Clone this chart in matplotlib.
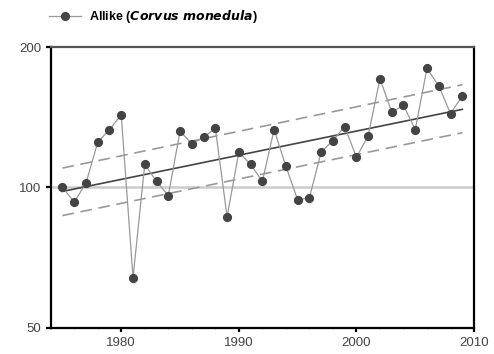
import matplotlib.pyplot as plt
from matplotlib.ticker import FixedLocator, NullFormatter

plt.rcParams.update({
    "font.family": ["Liberation Sans", "DejaVu Sans"],
    "font.size": 9,
})

# Jahresindex Allike (Corvus monedula), 1975 = 100
years = list(range(1975, 2010))
index = [100, 93, 102, 125, 133, 143, 64, 112, 103, 96,
         132, 124, 128, 134, 86.5, 119, 112, 103, 133, 111,
         94, 95, 119, 126, 135, 116, 129, 171, 145, 150,
         133, 180, 165, 144, 157]

# Trend mit Konfidenzband (Endpunkte)
trend_years = [1975, 2009]
trend = [98, 147]
upper = [110, 166]
lower = [87, 131]

fig = plt.figure(figsize=(4.94, 3.54), dpi=100)
ax = fig.add_axes([0.1026, 0.0743, 0.857, 0.7929])

ax.axhline(100, color="#cccccc", linewidth=1.8, zorder=1)
ax.plot(trend_years, upper, color="#999999", linewidth=1.2, dashes=(7, 4), zorder=2)
ax.plot(trend_years, lower, color="#999999", linewidth=1.2, dashes=(7, 4), zorder=2)
ax.plot(trend_years, trend, color="#444444", linewidth=1.2, zorder=3)
line, = ax.plot(years, index, color="#999999", linewidth=0.9, marker="o",
                markersize=5.6, markerfacecolor="#444444", markeredgecolor="#444444",
                zorder=4, label="Allike ($\\mathbfit{Corvus\\ monedula}$)")

ax.set_yscale("log")
ax.set_ylim(50, 200)
ax.set_xlim(1974, 2010)
ax.yaxis.set_major_locator(FixedLocator([50, 100, 200]))
ax.yaxis.set_minor_locator(FixedLocator([]))
ax.yaxis.set_minor_formatter(NullFormatter())
ax.set_yticklabels(["50", "100", "200"])
ax.set_xticks([1980, 1990, 2000, 2010])
ax.set_xticks(range(1974, 2011, 2), minor=True)

for s in ["left", "bottom", "right"]:
    ax.spines[s].set_color("black")
    ax.spines[s].set_linewidth(1.6)
ax.spines["top"].set_color("#555555")
ax.spines["top"].set_linewidth(1.6)

ax.tick_params(axis="both", which="major", length=3.5, width=1.6, color="black",
               labelcolor="#444444", labelsize=9.5, direction="out")
ax.tick_params(axis="x", which="minor", length=2, width=0.6, color="#888888",
               direction="inout")
ax.tick_params(axis="x", which="major", length=3)

leg = fig.legend(handles=[line], loc="upper left", bbox_to_anchor=(0.082, 1.0),
                 frameon=False, handlelength=2.6, handletextpad=0.6, borderaxespad=0.25,
                 prop={"weight": "bold", "size": 9})

fig.savefig("out.png", dpi=100)
